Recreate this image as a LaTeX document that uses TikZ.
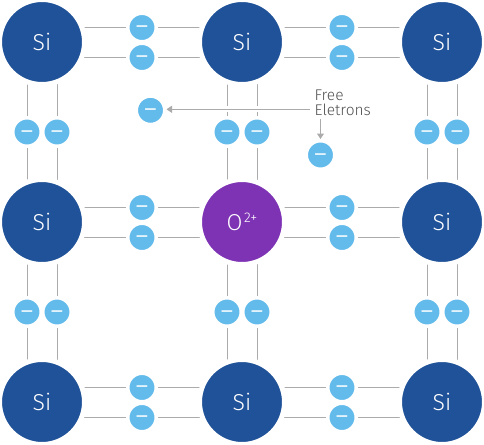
\documentclass[tikz,border=0pt]{standalone}
\usepackage{fontspec}
\setmainfont[UprightFont=* Light]{Fira Sans}
\usetikzlibrary{arrows.meta}
\pgfdeclarelayer{bg}
\pgfsetlayers{bg,main}
\definecolor{siblue}{HTML}{1F5299}
\definecolor{oxpurple}{HTML}{7E33B5}
\definecolor{elblue}{HTML}{62BBEB}
\definecolor{linegray}{HTML}{ABABAB}
\definecolor{labelgray}{HTML}{505050}
\tikzset{
  atomdisc/.style={circle,draw=white,line width=5pt,minimum size=85pt,inner sep=0pt,text=white,font=\fontsize{23}{23}\selectfont},
  sidisc/.style={atomdisc,fill=siblue},
  oxdisc/.style={atomdisc,fill=oxpurple},
  eldisc/.style={circle,draw=white,line width=3.5pt,fill=elblue,minimum size=28.5pt,inner sep=0pt,text=white,font=\fontsize{30}{30}\selectfont},
  bond/.style={draw=linegray,line width=1pt},
  callout/.style={draw=linegray,line width=1pt,-{Triangle[length=5.5pt,width=7pt]}},
  halo/.style={draw=white,line width=6pt},
}
\newcommand{\minussign}{\smash{\raisebox{-9pt}{−}}}
\begin{document}
\begin{tikzpicture}[x=1pt,y=-1pt]
\useasboundingbox (0,0) rectangle (484,444);
% atoms
\foreach \c/\x in {1/42,2/242,3/442}{
  \foreach \r/\y in {1/42,2/222,3/402}{
    \ifnum\c\r=22\relax
      \node[oxdisc] (a\c\r) at (\x,\y) {O\kern1.5pt\raisebox{8.5pt}{\fontsize{14}{14}\selectfont 2+}};
    \else
      \node[sidisc] (a\c\r) at (\x,\y) {Si};
    \fi
  }
}
% horizontal electrons and bonds
\foreach \c/\d/\x in {1/2/142,2/3/342}
  \foreach \r/\y in {1/27.5,2/207.5,3/387.5}
    \foreach \k/\dy in {u/0,l/30}{
      \node[eldisc] (h\c\r\k) at (\x,\y+\dy) {\minussign};
      \begin{pgfonlayer}{bg}
        \draw[bond] (a\c\r.center |- h\c\r\k) -- (h\c\r\k) -- (a\d\r.center |- h\c\r\k);
      \end{pgfonlayer}
    }
% vertical electrons and bonds
\foreach \r/\s/\y in {1/2/132,2/3/312}
  \foreach \c/\x in {1/27,2/227,3/427}
    \foreach \k/\dx in {u/0,l/30}{
      \node[eldisc] (v\c\r\k) at (\x+\dx,\y) {\minussign};
      \begin{pgfonlayer}{bg}
        \draw[bond] (v\c\r\k |- a\c\r.center) -- (v\c\r\k) -- (v\c\r\k |- a\c\s.center);
      \end{pgfonlayer}
    }
% free electrons
\node[eldisc] (f1) at (150.5,110.3) {\minussign};
\node[eldisc] (f2) at (320.5,155) {\minussign};
\node[anchor=west,align=left,inner sep=5pt,text=labelgray,font=\fontsize{15.5}{15}\selectfont] (lab) at (309.5,102.5) {Free\\Eletrons};
\coordinate (labw) at (310,109.3);
\coordinate (labs) at (320.5,119);
\draw[halo] (labw) -- (f1.east |- labw);
\draw[callout] (labw) -- (f1.east |- labw);
\draw[callout] (labs) -- (f2.north);
\end{tikzpicture}
\end{document}
